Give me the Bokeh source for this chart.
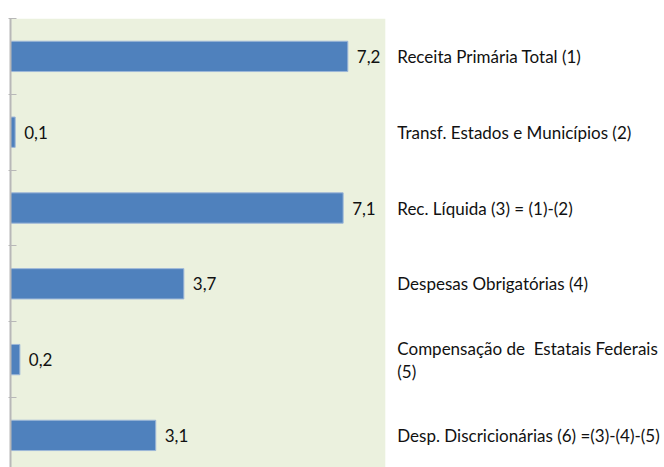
from bokeh.plotting import figure
from bokeh.models import ColumnDataSource, Range1d, FixedTicker, BoxAnnotation
from bokeh.core.properties import value
from bokeh.embed import file_html
from bokeh.resources import INLINE

categories = [
    "Receita Primária Total (1)",
    "Transf. Estados e Municípios (2)",
    "Rec. Líquida (3) = (1)-(2)",
    "Despesas Obrigatórias (4)",
    "Compensação de\u00a0 Estatais Federais\n(5)",
    "Desp. Discricionárias (6) =(3)-(4)-(5)",
]
values = [7.2, 0.1, 7.1, 3.7, 0.2, 3.1]
value_labels = ["7,2", "0,1", "7,1", "3,7", "0,2", "3,1"]

FONT = "Lato"
FONT_SIZE = "17px"
BAR_COLOR = "#4F81BD"
BG_COLOR = "#EBF1DE"
AREA_MAX = 8.0          # right edge of the shaded plot area (data units)
PX_PER_UNIT = 46.85
W, H = 664, 467
LEFT, TOP = 10, 18
FRAME_W = W - LEFT
FRAME_H = H - TOP
PITCH = 75.8

idx = list(range(len(categories)))
src = ColumnDataSource(dict(
    y=idx,
    v=values,
    vl=value_labels,
    cat=categories,
    cx=[AREA_MAX] * len(categories),
))

p = figure(
    width=W, height=H,
    output_backend="svg", toolbar_location=None,
    x_range=Range1d(0, FRAME_W / PX_PER_UNIT),
    y_range=Range1d(-0.5 + FRAME_H / PITCH, -0.5),
    min_border_left=LEFT, min_border_right=0,
    min_border_top=TOP, min_border_bottom=0,
)
p.outline_line_color = None
p.background_fill_color = "white"
p.border_fill_color = "white"
p.xgrid.visible = False
p.ygrid.visible = False
p.xaxis.visible = False

bg = BoxAnnotation(left=0, right=AREA_MAX, fill_color=BG_COLOR, fill_alpha=1.0,
                   line_color=None, level="underlay")
p.add_layout(bg)

p.hbar(y="y", right="v", left=0, height=0.4, source=src,
       fill_color=BAR_COLOR, line_color="#9DB7D8", line_width=1)

p.text(x="v", y="y", text="vl", source=src, x_offset=9,
       text_baseline="middle", text_align="left",
       text_font=value(FONT), text_font_size=FONT_SIZE, text_color="#111111")

p.text(x="cx", y="y", text="cat", source=src, x_offset=12,
       text_baseline="middle", text_align="left", text_line_height=1.1,
       text_font=value(FONT), text_font_size=FONT_SIZE, text_color="#111111")

ticks = [i - 0.5 for i in idx] + [len(idx) - 0.5]
yax = p.yaxis[0]
yax.ticker = FixedTicker(ticks=ticks)
yax.major_label_overrides = {t: "" for t in ticks}
yax.major_label_standoff = 0
yax.major_tick_in = 6
yax.major_tick_out = 2
yax.minor_tick_in = 0
yax.minor_tick_out = 0
yax.axis_line_color = "#B8B8B8"
yax.axis_line_width = 2
yax.major_tick_line_color = "#B8B8B8"
yax.major_tick_line_width = 1

open("out.html", "w").write(file_html(p, INLINE))
